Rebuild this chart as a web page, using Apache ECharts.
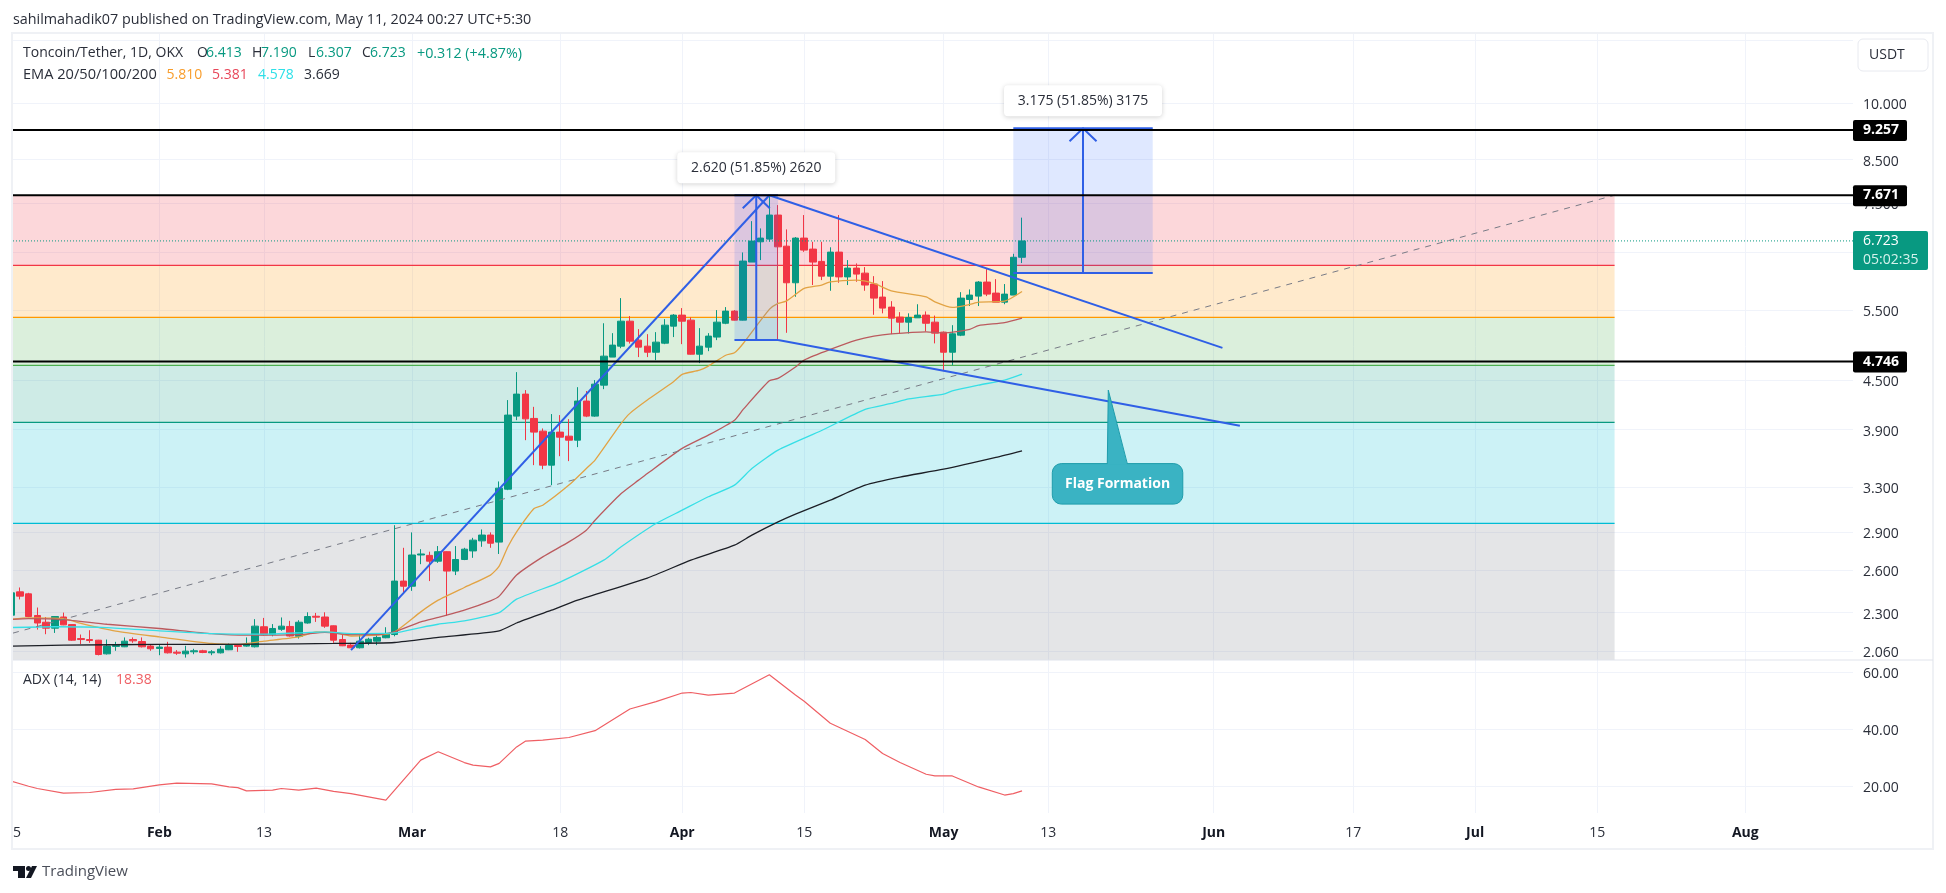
<!DOCTYPE html>
<html>
<head>
<meta charset="utf-8">
<title>Toncoin/Tether</title>
<style>
    html, body { margin: 0; padding: 0; background: #fff; }
    #main { width: 1946px; height: 893px; }
</style>
<script src="https://cdn.jsdelivr.net/npm/echarts@6/dist/echarts.min.js"></script>
</head>
<body>
<div id="main"></div>
<script>
// candles, position in the array = days after Jan 15 2024
var opens = [2.283,2.442,2.428,2.281,2.237,2.199,2.271,2.222,2.134,2.128,2.124,2.042,2.086,2.084,2.128,2.116,2.088,2.074,2.082,2.052,
    2.042,2.054,2.060,2.048,2.048,2.066,2.092,2.088,2.084,2.208,2.159,2.192,2.210,2.148,2.232,2.276,2.271,2.214,2.128,2.094,
    2.078,2.110,2.118,2.139,2.159,2.519,2.482,2.716,2.713,2.668,2.742,2.593,2.681,2.748,2.829,2.877,2.819,3.284,4.055,4.321,
    4.028,3.883,3.520,3.872,3.827,3.783,4.235,4.055,4.434,4.808,4.962,5.333,5.049,4.962,4.876,5.005,5.257,5.427,5.349,4.848,
    4.948,5.094,5.301,5.490,5.349,6.325,6.706,6.758,7.244,6.622,5.958,6.778,6.566,6.337,6.073,6.509,6.060,6.216,6.126,5.936,
    5.717,5.554,5.396,5.318,5.385,5.427,5.318,5.167,4.876,5.122,5.678,5.733,5.970,5.783,5.634,5.750,6.413];
var highs = [2.45,2.473,2.435,2.334,2.271,2.276,2.300,2.224,2.159,2.186,2.126,2.128,2.114,2.141,2.141,2.141,2.100,2.100,2.114,2.064,
    2.090,2.072,2.066,2.064,2.088,2.104,2.094,2.141,2.257,2.265,2.225,2.268,2.246,2.250,2.302,2.298,2.302,2.216,2.159,2.108,
    2.161,2.139,2.159,2.205,2.960,2.773,2.899,2.762,2.742,2.787,2.745,2.787,2.773,2.854,2.924,2.899,3.358,4.247,4.604,4.371,
    4.165,3.913,4.079,4.067,4.020,4.408,4.359,4.499,5.301,5.152,5.700,5.412,5.212,5.137,5.167,5.365,5.443,5.538,5.391,5.227,
    5.152,5.506,5.554,5.506,6.503,7.118,6.970,7.650,7.455,6.950,6.798,7.244,6.706,6.706,6.600,7.244,6.361,6.300,6.234,6.073,
    5.987,5.650,5.474,5.455,5.600,5.485,5.420,5.177,5.272,5.799,5.845,5.987,6.198,6.021,5.936,6.478,7.190];
var lows = [2.27,2.389,2.27,2.190,2.161,2.169,2.218,2.120,2.100,2.108,2.033,2.038,2.060,2.082,2.108,2.080,2.060,2.034,2.044,2.036,
    2.020,2.040,2.046,2.034,2.044,2.064,2.054,2.084,2.080,2.153,2.148,2.182,2.146,2.134,2.228,2.239,2.201,2.108,2.088,2.078,
    2.074,2.094,2.094,2.136,2.148,2.430,2.449,2.645,2.519,2.655,2.278,2.563,2.676,2.694,2.781,2.773,2.724,3.275,4.008,3.783,
    3.520,3.479,3.323,3.612,3.561,3.708,4.043,4.047,4.383,4.808,4.933,5.000,4.808,4.808,4.766,4.991,5.094,4.991,4.843,4.725,
    4.891,5.049,5.287,5.344,5.344,6.325,6.361,6.706,5.064,5.157,5.722,6.514,5.919,6.004,5.822,5.958,5.919,5.975,5.822,5.432,
    5.455,5.137,5.147,5.147,5.385,5.177,5.002,4.617,4.697,5.108,5.571,5.571,5.733,5.634,5.600,5.750,6.307];
var closes = [2.435,2.412,2.274,2.232,2.199,2.274,2.220,2.124,2.128,2.122,2.038,2.088,2.092,2.118,2.120,2.084,2.072,2.082,2.048,2.046,
    2.058,2.060,2.050,2.054,2.070,2.092,2.086,2.098,2.212,2.157,2.197,2.212,2.150,2.237,2.274,2.270,2.212,2.124,2.090,2.078,
    2.118,2.130,2.141,2.161,2.519,2.482,2.716,2.724,2.668,2.742,2.593,2.681,2.762,2.835,2.877,2.810,3.294,4.067,4.321,4.023,
    3.872,3.520,3.872,3.816,3.783,4.235,4.055,4.447,4.821,4.977,5.333,5.034,4.948,4.876,5.020,5.272,5.427,5.333,4.848,4.962,
    5.108,5.318,5.490,5.349,6.343,6.720,6.778,7.244,6.609,5.958,6.778,6.547,6.325,6.073,6.509,6.060,6.216,6.109,5.919,5.700,
    5.538,5.380,5.318,5.391,5.427,5.301,5.152,4.876,5.142,5.700,5.750,5.970,5.766,5.634,5.766,6.413,6.723];

var ema20Days = [0,2,6,8,12,17,23,26,29,33,35,37,39,42,44,47,49,52,55,56,57,58,60,61,64,66,67,70,71,73,76,77,79,80,82,83,84,87,88,89,91,93,94,97,99,101,105,106,108,110,111,114,116];
var ema20 = [2.256,2.265,2.261,2.229,2.180,2.144,2.104,2.098,2.118,2.144,2.176,2.172,2.150,2.155,2.176,2.305,2.384,2.473,2.563,2.630,2.781,2.904,3.106,3.136,3.323,3.486,3.571,3.970,4.087,4.247,4.477,4.574,4.630,4.685,4.833,4.868,5.000,5.517,5.613,5.655,5.861,5.919,5.975,6.004,5.947,5.822,5.722,5.639,5.549,5.597,5.634,5.650,5.810];
var ema50Days = [0,2,6,11,17,23,27,33,36,39,42,44,47,49,52,55,56,58,61,64,66,67,70,72,73,77,80,83,84,87,88,90,91,94,97,99,101,105,107,110,111,114,116];
var ema50 = [2.255,2.261,2.254,2.224,2.197,2.165,2.155,2.159,2.172,2.159,2.159,2.176,2.239,2.268,2.316,2.379,2.412,2.563,2.701,2.821,2.918,3.003,3.243,3.371,3.436,3.694,3.838,4.008,4.134,4.490,4.521,4.673,4.766,4.915,5.049,5.108,5.142,5.172,5.157,5.209,5.266,5.312,5.381];
var ema100Days = [0,5,11,17,23,29,36,39,44,47,49,52,56,58,63,68,70,74,77,80,83,85,88,93,98,101,103,107,108,111,114,116];
var ema100 = [2.203,2.208,2.203,2.182,2.165,2.161,2.176,2.165,2.169,2.203,2.224,2.246,2.300,2.391,2.512,2.676,2.781,2.974,3.091,3.213,3.323,3.486,3.676,3.890,4.134,4.206,4.262,4.321,4.362,4.434,4.499,4.578];
var ema200Days = [0,6,17,29,37,44,49,56,58,62,65,73,78,83,85,88,90,94,98,102,107,113,116];
var ema200 = [2.088,2.094,2.098,2.100,2.104,2.110,2.141,2.182,2.232,2.316,2.384,2.541,2.676,2.794,2.876,2.988,3.056,3.182,3.323,3.401,3.479,3.600,3.669];

var adxDays = [0,2,3,6,9,12,14,17,19,23,25,26,27,30,31,33,35,37,39,43,47,49,52,53,55,56,58,59,61,64,67,71,74,77,78,80,83,87,90,91,94,98,100,102,105,106,108,111,114,115,116];
var adx = [21.76,20.0,19.2,17.6,17.8,18.9,19.05,20.5,21.06,20.8,19.75,19.5,18.35,18.6,19.2,18.6,19.3,18.2,17.4,15.1,29.15,32.1,28.3,27.4,26.8,28.0,33.8,35.8,36.2,37.1,39.5,47.1,49.7,52.7,52.9,52.0,52.7,59.1,52.0,49.8,42.1,36.4,31.5,28.3,24.2,23.6,23.6,19.75,16.9,17.4,18.38];

var xTickDays = [17,29,46,63,77,91,107,119,138,154,168,182,199];
var xTickLabels = ['Feb','13','Mar','18','Apr','15','May','13','Jun','17','Jul','15','Aug'];
var priceGrid = [12,10,8.5,7.5,6.5,5.5,4.5,3.9,3.3,2.9,2.6,2.3,2.06];
var priceTicks = [10,8.5,7.5,6.5,5.5,4.5,3.9,3.3,2.9,2.6,2.3,2.06];
var adxTicks = [20,40,60];

var fibLevels = [7.671,6.266,5.393,4.695,3.982,2.976];
var supportLevels = [9.257,7.671,4.746];
var lastPrice = 6.723;

var xMin = 0.207, xMax = 211.36, fibEnd = 184;
var yMin = 2.006, yMax = 12.25;

var font = '"Open Sans", sans-serif';
var blue = '#2f5fe6';
var fibFill = ['rgba(242,54,69,.2)','rgba(255,152,0,.2)','rgba(76,175,80,.2)','rgba(8,153,129,.2)','rgba(0,188,212,.2)','rgba(120,123,134,.2)'];
var fibStroke = ['#f23645','#ff9800','#4caf50','#089981','#00bcd4','#787b86'];

function lineOf(days, vals) {
    var out = [];
    for (var i = 0; i < days.length; i++) {
        out.push([days[i], vals[i]]);
    }
    return out;
}

function emaSeries(name, days, vals, color) {
    return {
        name: name, type: 'line', data: lineOf(days, vals), showSymbol: false, smooth: 0.2, silent: true, z: 4,
        lineStyle: { color: color, width: 1.3 }
    };
}

function trendSeries(name, pts) {
    return {
        name: name, type: 'line', data: pts, showSymbol: false, silent: true, z: 6,
        lineStyle: { color: blue, width: 2 }
    };
}

function text(str, x, y, color, size, weight, align) {
    return {
        type: 'text', x: x, y: y, silent: true, z: 20,
        style: {
            text: str, fill: color, font: (weight || 'normal') + ' ' + (size || 14) + 'px ' + font,
            align: align || 'left', verticalAlign: 'middle'
        }
    };
}

var candleData = [];
for (var i = 0; i < closes.length; i++) {
    candleData.push([i, opens[i], closes[i], lows[i], highs[i]]);
}

var zoneData = [];
for (let i = 0; i < fibLevels.length; i++) {
    zoneData.push([fibLevels[i], i + 1 < fibLevels.length ? fibLevels[i + 1] : yMin]);
}

function renderZone(params, api) {
    var a = api.coord([xMin, api.value(0)]);
    var b = api.coord([fibEnd, api.value(1)]);
    var kids = [{
        type: 'rect', shape: { x: a[0], y: a[1], width: b[0] - a[0], height: b[1] - a[1] },
        style: { fill: fibFill[params.dataIndex] }
    }];
    if (params.dataIndex > 0) {
        kids.push({
            type: 'line', shape: { x1: a[0], y1: a[1], x2: b[0], y2: a[1] },
            style: { stroke: fibStroke[params.dataIndex - 1], lineWidth: 1.2 }
        });
    }
    return { type: 'group', children: kids };
}

// measure boxes: left day, right day, arrow day, from, to, caption
var boxLeft = [83, 115], boxRight = [88, 131], boxArrow = [85.5, 123];
var boxFrom = [5.051, 6.13], boxTo = [7.671, 9.305];
var boxCaption = ['2.620 (51.85%) 2620', '3.175 (51.85%) 3175'];

function renderBox(params, api) {
    var k = params.dataIndex;
    var a = api.coord([boxLeft[k], boxTo[k]]);
    var b = api.coord([boxRight[k], boxFrom[k]]);
    var m = api.coord([boxArrow[k], boxTo[k]]);
    var lineSt = { stroke: blue, lineWidth: 2, fill: null };
    var w = 158, h = 31;
    return {
        type: 'group',
        children: [
            { type: 'rect', shape: { x: a[0], y: a[1], width: b[0] - a[0], height: b[1] - a[1] }, style: { fill: 'rgba(41,98,255,.15)' } },
            { type: 'line', shape: { x1: a[0], y1: a[1], x2: b[0], y2: a[1] }, style: lineSt },
            { type: 'line', shape: { x1: a[0], y1: b[1], x2: b[0], y2: b[1] }, style: lineSt },
            { type: 'line', shape: { x1: m[0], y1: b[1], x2: m[0], y2: a[1] }, style: lineSt },
            { type: 'polyline', shape: { points: [[m[0] - 13.5, a[1] + 13], [m[0], a[1]], [m[0] + 13.5, a[1] + 13]] }, style: lineSt },
            {
                type: 'rect', shape: { x: m[0] - w / 2, y: a[1] - 12 - h, width: w, height: h, r: 4 },
                style: { fill: '#fff', shadowBlur: 5, shadowColor: 'rgba(0,0,0,.18)', shadowOffsetY: 1 }
            },
            {
                type: 'text', x: m[0], y: a[1] - 12 - h / 2,
                style: { text: boxCaption[k], fill: '#2a2e39', font: '14px ' + font, align: 'center', verticalAlign: 'middle' }
            }
        ]
    };
}

function renderLevel(params, api) {
    var v = api.value(0);
    var a = api.coord([xMin, v]);
    var b = api.coord([xMax, v]);
    return {
        type: 'group',
        children: [
            { type: 'line', shape: { x1: a[0], y1: a[1], x2: b[0], y2: a[1] }, style: { stroke: '#000', lineWidth: 2 } },
            { type: 'rect', shape: { x: b[0], y: a[1] - 10, width: 54, height: 21, r: 2 }, style: { fill: '#000' } },
            {
                type: 'text', x: b[0] + 10, y: a[1],
                style: { text: v.toFixed(3), fill: '#fff', font: 'bold 14px ' + font, verticalAlign: 'middle' }
            }
        ]
    };
}

function renderPrice(params, api) {
    var v = api.value(0);
    var a = api.coord([xMin, v]);
    var b = api.coord([xMax, v]);
    return {
        type: 'group',
        children: [
            { type: 'line', shape: { x1: a[0], y1: a[1], x2: b[0], y2: a[1] }, style: { stroke: '#089981', lineWidth: 1, lineDash: [1, 2] } },
            { type: 'rect', shape: { x: b[0], y: a[1] - 10, width: 75, height: 39, r: 2 }, style: { fill: '#089981' } },
            { type: 'text', x: b[0] + 10, y: a[1] + 0.5, style: { text: v.toFixed(3), fill: '#fff', font: '14px ' + font, verticalAlign: 'middle' } },
            { type: 'text', x: b[0] + 10, y: a[1] + 19, style: { text: '05:02:35', fill: '#d6f2ec', font: '14px ' + font, verticalAlign: 'middle' } }
        ]
    };
}

// callout, tip points at the lower flag line
var calloutTip = [125.9, 4.371];

function renderCallout(params, api) {
    var t = api.coord(calloutTip);
    var boxX = t[0] - 56, boxY = t[1] + 73.5, boxW = 130.5, boxH = 40.5;
    var fill = '#3ab3c3', edge = '#1e9cab';
    return {
        type: 'group',
        children: [
            { type: 'rect', shape: { x: boxX, y: boxY, width: boxW, height: boxH, r: 9 }, style: { fill: fill, stroke: edge, lineWidth: 1 } },
            { type: 'polygon', shape: { points: [[t[0] - 1, boxY + 1], t, [t[0] + 19, boxY + 1]] }, style: { fill: fill } },
            { type: 'polyline', shape: { points: [[t[0] - 1, boxY], t, [t[0] + 19, boxY]] }, style: { stroke: edge, lineWidth: 1, fill: null } },
            {
                type: 'text', x: boxX + boxW / 2, y: boxY + boxH / 2,
                style: { text: 'Flag Formation', fill: '#fff', font: 'bold 14px ' + font, align: 'center', verticalAlign: 'middle' }
            }
        ]
    };
}

var gridLine = { show: true, lineStyle: { color: '#f0f3fa', width: 1 } };

function xAxisOf(gridIndex, showLabel) {
    return {
        type: 'value', gridIndex: gridIndex, min: xMin, max: xMax,
        axisLine: { show: false },
        axisTick: { show: false, customValues: xTickDays },
        splitLine: gridLine,
        axisLabel: {
            show: showLabel, customValues: xTickDays, margin: 13, hideOverlap: false,
            color: '#2a2e39', fontFamily: font, fontSize: 14,
            formatter: function (val) {
                var s = xTickLabels[xTickDays.indexOf(val)];
                return /^[A-Z]/.test(s) ? '{m|' + s + '}' : s;
            },
            rich: { m: { fontWeight: 'bold', fontFamily: font, fontSize: 14, color: '#131722' } }
        }
    };
}

function yAxisOf(cfg, grid, ticks, fmt) {
    return Object.assign({
        position: 'right', scale: true,
        axisLine: { show: false },
        axisTick: { show: false, customValues: grid },
        splitLine: gridLine,
        axisLabel: {
            // top + small line height drops the text 2px below its gridline
            customValues: ticks, align: 'left', margin: 10, verticalAlign: 'top', lineHeight: 4,
            color: '#2a2e39', fontFamily: font, fontSize: 14,
            showMinLabel: true, showMaxLabel: true, hideOverlap: false,
            formatter: function (v) { return Number(v).toFixed(fmt); }
        }
    }, cfg);
}

var myChart = echarts.init(document.getElementById('main'), null, { renderer: 'canvas', width: 1946, height: 893 });
myChart.setOption({
    animation: false,
    backgroundColor: '#fff',
    grid: [
        { left: 13, right: 93, top: 33, height: 627 },
        { left: 13, right: 93, top: 660, height: 153 }
    ],
    xAxis: [xAxisOf(0, false), xAxisOf(1, true)],
    yAxis: [
        yAxisOf({ type: 'log', gridIndex: 0, min: yMin, max: yMax }, priceGrid, priceTicks, 3),
        yAxisOf({ type: 'value', gridIndex: 1, min: 10.6, max: 64.3 }, adxTicks, adxTicks, 2)
    ],
    series: [
        { name: 'fib', type: 'custom', data: zoneData, renderItem: renderZone, silent: true, z: 1 },
        {
            name: 'Toncoin/Tether', type: 'candlestick', data: candleData, barWidth: 7, z: 3,
            encode: { x: 0, y: [1, 2, 3, 4] },
            itemStyle: { color: '#089981', color0: '#f23645', borderColor: '#089981', borderColor0: '#f23645', borderWidth: 1 }
        },
        emaSeries('EMA 20', ema20Days, ema20, '#e2a344'),
        emaSeries('EMA 50', ema50Days, ema50, '#bb5a5e'),
        emaSeries('EMA 100', ema100Days, ema100, '#36dfe6'),
        emaSeries('EMA 200', ema200Days, ema200, '#1c1f26'),
        {
            name: 'fib trend', type: 'line', data: [[xMin, 2.168], [fibEnd, 7.671]], showSymbol: false, silent: true, z: 5,
            lineStyle: { color: '#787b86', width: 1, type: [6, 6] }
        },
        { name: 'measure', type: 'custom', data: [[0, 5], [1, 5]], renderItem: renderBox, silent: true, z: 5 },
        trendSeries('impulse', [[39, 2.064], [87, 7.671]]),
        trendSeries('flag top', [[87, 7.671], [139, 4.938]]),
        trendSeries('flag bottom', [[88, 5.051], [141, 3.943]]),
        { name: 'levels', type: 'custom', data: supportLevels.map(function (v) { return [v, v]; }), encode: { x: 1, y: 0 }, renderItem: renderLevel, silent: true, z: 7 },
        { name: 'price', type: 'custom', data: [[lastPrice, lastPrice]], encode: { x: 1, y: 0 }, renderItem: renderPrice, silent: true, z: 7 },
        { name: 'callout', type: 'custom', data: [calloutTip], renderItem: renderCallout, silent: true, z: 8 },
        {
            name: 'ADX', type: 'line', xAxisIndex: 1, yAxisIndex: 1, data: lineOf(adxDays, adx), showSymbol: false, silent: true,
            lineStyle: { color: '#ef5f64', width: 1.2 }
        }
    ],
    graphic: [
        // first candle is cut at the pane edge
        { type: 'rect', silent: true, z: 14, shape: { x: 0, y: 34, width: 12, height: 626 }, style: { fill: '#fff' } },
        { type: 'rect', silent: true, z: 15, shape: { x: 12, y: 33, width: 1921, height: 816 }, style: { fill: null, stroke: '#eff1f5', lineWidth: 2 } },
        { type: 'line', silent: true, z: 15, shape: { x1: 13, y1: 660, x2: 1933, y2: 660 }, style: { stroke: '#e0e3eb', lineWidth: 1 } },
        { type: 'rect', silent: true, z: 18, shape: { x: 1858, y: 39, width: 70, height: 32, r: 5 }, style: { fill: '#fff', stroke: '#e8eaf0', lineWidth: 1 } },
        text('USDT', 1869, 55, '#2a2e39', 14),
        text('sahilmahadik07 published on TradingView.com, May 11, 2024 00:27 UTC+5:30', 13, 20, '#2a2e39', 14.35),
        text('Toncoin/Tether, 1D, OKX', 23, 53.5, '#2a2e39', 14),
        text('O', 197, 53.5, '#2a2e39', 14), text('6.413', 206, 53.5, '#089981', 14),
        text('H', 252, 53.5, '#2a2e39', 14), text('7.190', 261, 53.5, '#089981', 14),
        text('L', 308, 53.5, '#2a2e39', 14), text('6.307', 316, 53.5, '#089981', 14),
        text('C', 362, 53.5, '#2a2e39', 14), text('6.723', 370, 53.5, '#089981', 14),
        text('+0.312 (+4.87%)', 417, 53.5, '#089981', 14.3),
        text('EMA 20/50/100/200', 23, 75, '#2a2e39', 14.6),
        text('5.810', 166.5, 75, '#f89d2c', 14), text('5.381', 212, 75, '#e8475a', 14),
        text('4.578', 258, 75, '#2fe0e8', 14), text('3.669', 304, 75, '#2a2e39', 14),
        text('ADX (14, 14)', 23, 680, '#2a2e39', 14), text('18.38', 116, 680, '#ef5f64', 14),
        text('5', 13, 833, '#2a2e39', 14),
        // tradingview mark
        { type: 'rect', silent: true, shape: { x: 13, y: 866, width: 12, height: 5 }, style: { fill: '#131722' } },
        { type: 'rect', silent: true, shape: { x: 18, y: 866, width: 7, height: 12 }, style: { fill: '#131722' } },
        { type: 'circle', silent: true, shape: { cx: 28.5, cy: 868.5, r: 2.5 }, style: { fill: '#131722' } },
        { type: 'polygon', silent: true, shape: { points: [[32, 866], [37, 866], [31, 878], [26, 878]] }, style: { fill: '#131722' } },
        text('TradingView', 42, 872, '#4a4e59', 15)
    ]
});
</script>
</body>
</html>
